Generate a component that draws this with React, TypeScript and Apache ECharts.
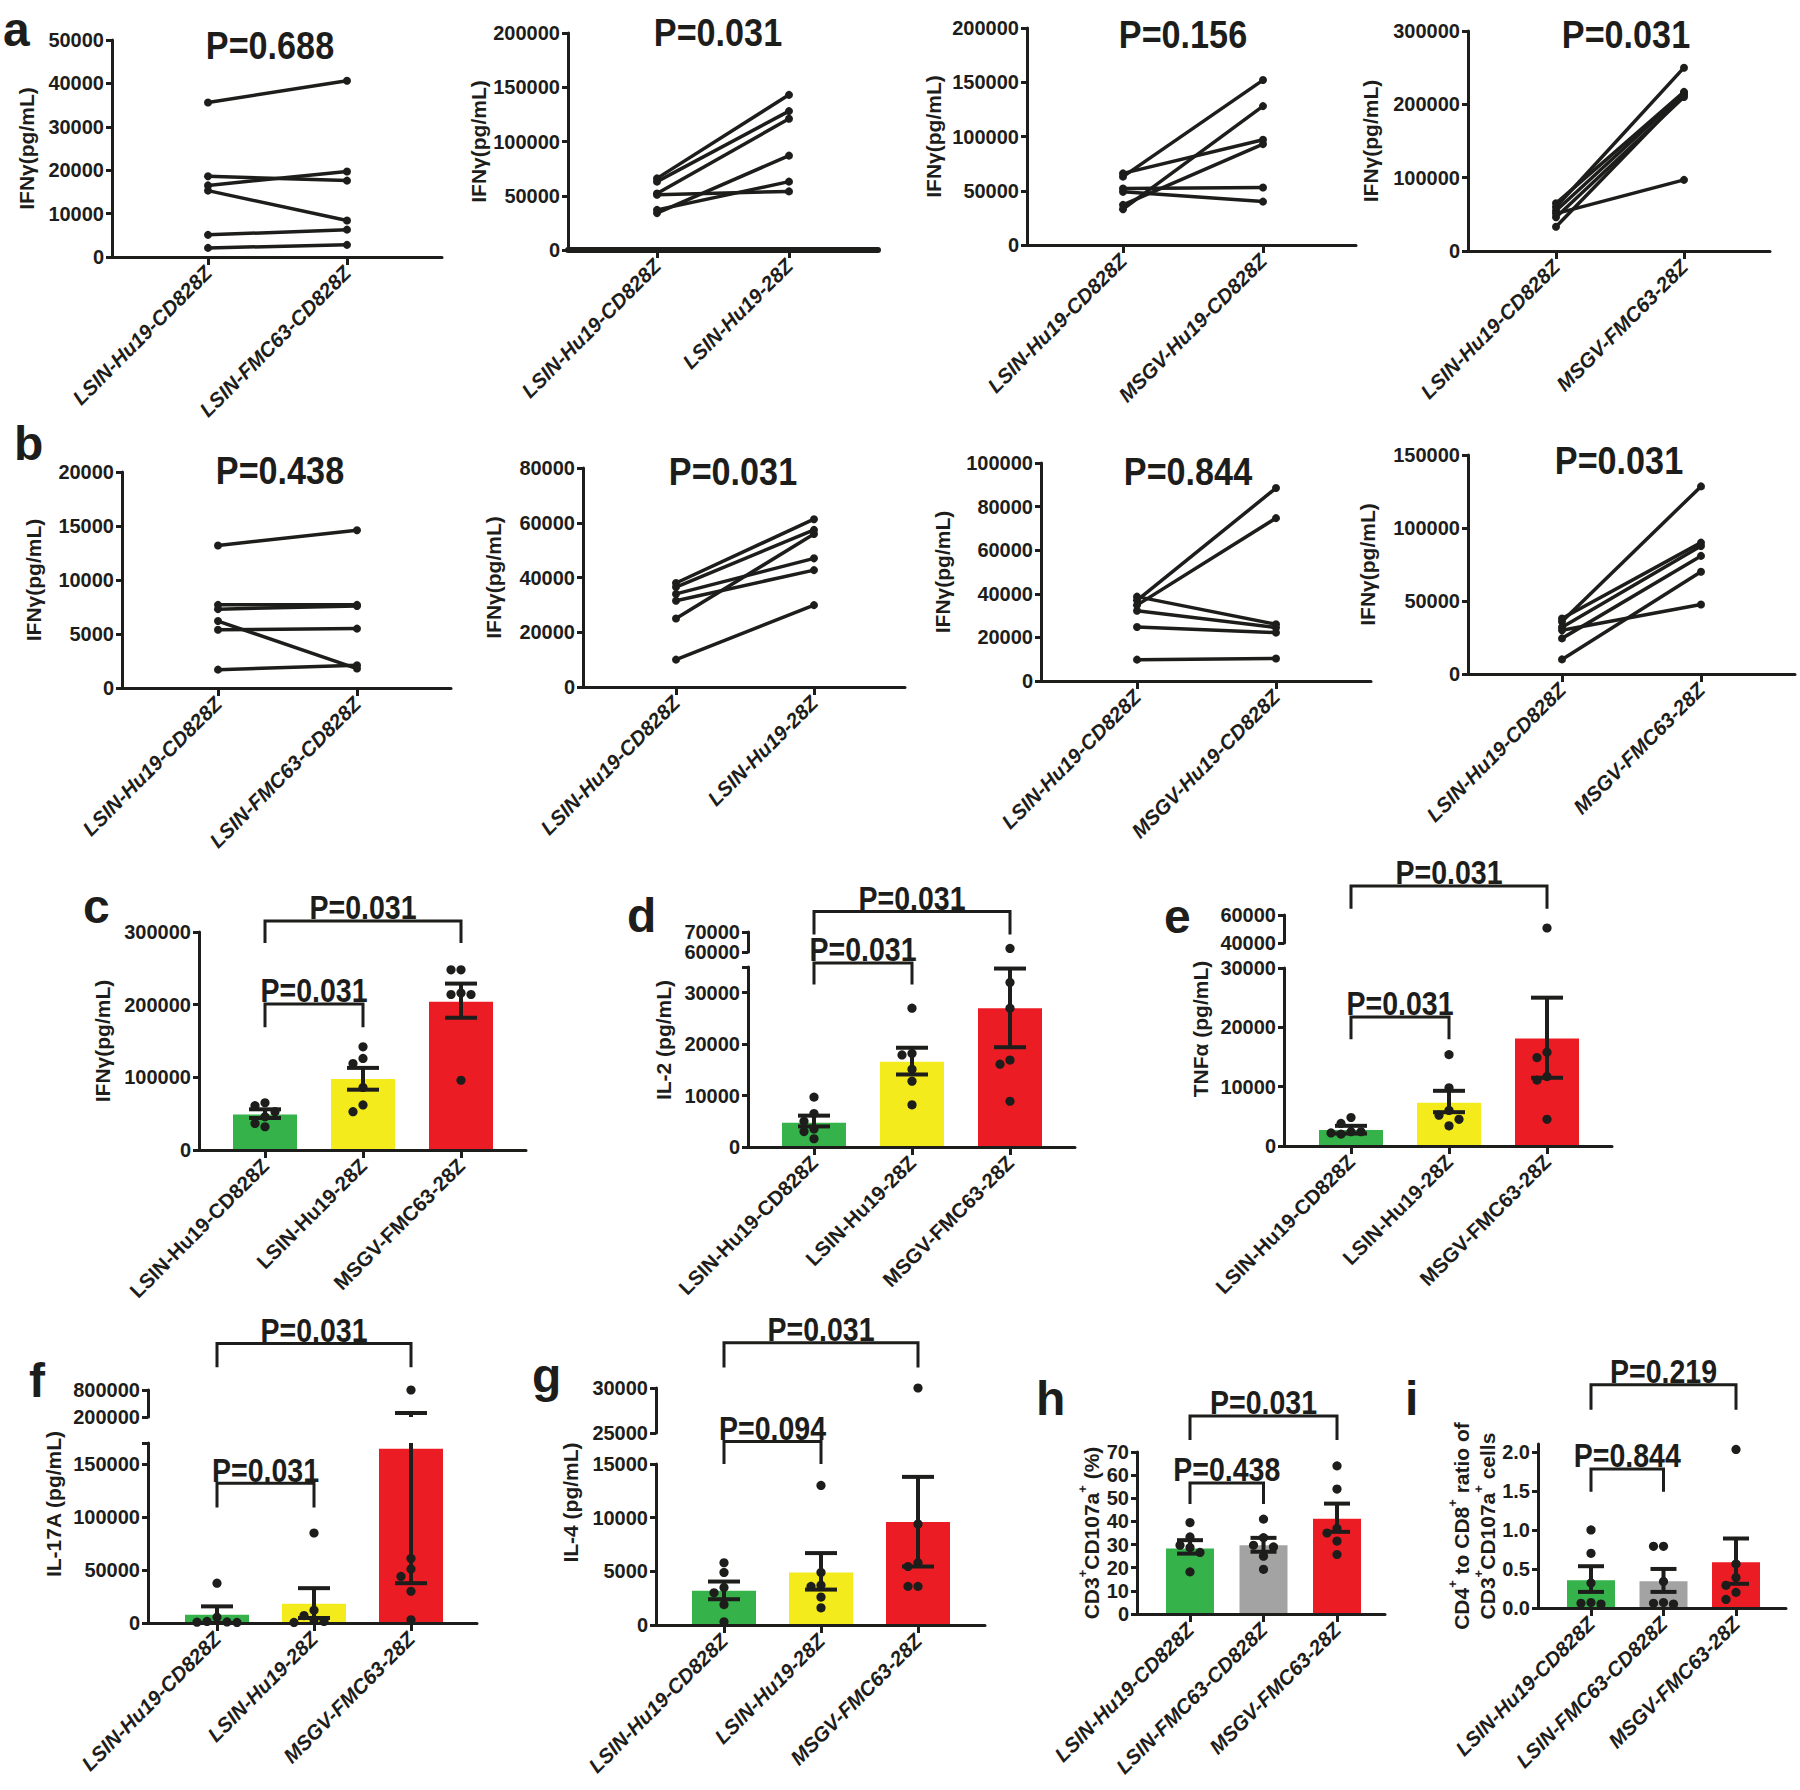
import React, { useEffect, useRef } from "react";
import * as echarts from "echarts";

// ===================== DATA =====================
// Panel a : IFN-γ (pg/mL), paired donors (first category -> second category)
const A1_CATS = ["LSIN-Hu19-CD828Z", "LSIN-FMC63-CD828Z"];
const A1_FIRST = [35600, 18600, 16500, 15300, 5100, 2100];
const A1_SECOND = [40600, 17600, 19700, 8400, 6300, 2800];
const A1_TICKS = [0, 10000, 20000, 30000, 40000, 50000];

const A2_CATS = ["LSIN-Hu19-CD828Z", "LSIN-Hu19-28Z"];
const A2_FIRST = [66000, 63000, 52000, 51000, 34000, 37000];
const A2_SECOND = [143000, 128000, 121000, 54000, 87000, 63000];
const A2_TICKS = [0, 50000, 100000, 150000, 200000];

const A3_CATS = ["LSIN-Hu19-CD828Z", "MSGV-Hu19-CD828Z"];
const A3_FIRST = [63000, 33000, 66000, 37000, 52000, 49000];
const A3_SECOND = [152000, 128000, 97000, 93000, 53000, 40000];
const A3_TICKS = [0, 50000, 100000, 150000, 200000];

const A4_CATS = ["LSIN-Hu19-CD828Z", "MSGV-FMC63-28Z"];
const A4_FIRST = [60000, 65000, 55000, 33000, 46000, 51000];
const A4_SECOND = [250000, 217000, 215000, 213000, 210000, 97000];
const A4_TICKS = [0, 100000, 200000, 300000];

// Panel b : IFN-γ (pg/mL), paired donors
const B1_FIRST = [13200, 7700, 7300, 5400, 6200, 1700];
const B1_SECOND = [14600, 7700, 7600, 5500, 1800, 2100];
const B1_TICKS = [0, 5000, 10000, 15000, 20000];

const B2_FIRST = [38000, 36500, 34000, 31500, 25000, 10000];
const B2_SECOND = [61300, 57400, 47000, 42700, 55900, 29900];
const B2_TICKS = [0, 20000, 40000, 60000, 80000];

const B3_FIRST = [37000, 34800, 38700, 32200, 24800, 9800];
const B3_SECOND = [88500, 74700, 26000, 24500, 22200, 10300];
const B3_TICKS = [0, 20000, 40000, 60000, 80000, 100000];

const B4_FIRST = [36000, 38000, 32000, 24400, 10000, 30000];
const B4_SECOND = [128500, 90000, 87700, 80900, 70000, 47600];
const B4_TICKS = [0, 50000, 100000, 150000];

const P_ROW_A = ["P=0.688", "P=0.031", "P=0.156", "P=0.031"];
const P_ROW_B = ["P=0.438", "P=0.031", "P=0.844", "P=0.031"];

// Bar panels c–i
const CATS_28 = ["LSIN-Hu19-CD828Z", "LSIN-Hu19-28Z", "MSGV-FMC63-28Z"];
const CATS_FMC = ["LSIN-Hu19-CD828Z", "LSIN-FMC63-CD828Z", "MSGV-FMC63-28Z"];

// c : IFN-γ
const C_MEAN = [49000, 97600, 204000];
const C_SEM_HI = [56000, 113000, 229000];
const C_SEM_LO = [44000, 83000, 182000];
const C_DOTS_1 = [65000, 61000, 52700, 45800, 36600, 32000];
const C_DOTS_2 = [142000, 126000, 119000, 86000, 62000, 52700];
const C_DOTS_3 = [248000, 248000, 216000, 214000, 214000, 96000];
const C_TICKS = [0, 100000, 200000, 300000];
const C_P = ["P=0.031", "P=0.031"];

// d : IL-2 (broken axis)
const D_MEAN = [4700, 16600, 27000];
const D_SEM_HI = [6100, 19300, 34700];
const D_SEM_LO = [4000, 14100, 19400];
const D_DOTS_1 = [9700, 6500, 5000, 3500, 3000, 1600];
const D_DOTS_2 = [27000, 18200, 17900, 15100, 12800, 8200];
const D_DOTS_3 = [61800, 32000, 27000, 16900, 16100, 8900];
const D_TICKS = [0, 10000, 20000, 30000];
const D_TICKS_UP = [60000, 70000];
const D_P = ["P=0.031", "P=0.031"];

// e : TNF-α (broken axis)
const E_MEAN = [2700, 7300, 18100];
const E_SEM_HI = [3400, 9300, 25000];
const E_SEM_LO = [2100, 5700, 11500];
const E_DOTS_1 = [4800, 3800, 2400, 2400, 2200, 2000];
const E_DOTS_2 = [15400, 9800, 6000, 5200, 4500, 3400];
const E_DOTS_3 = [50700, 15800, 14900, 11700, 11100, 4500];
const E_TICKS = [0, 10000, 20000, 30000];
const E_TICKS_UP = [40000, 60000];
const E_P = ["P=0.031", "P=0.031"];

// f : IL-17A (broken axis)
const F_MEAN = [7800, 18200, 164600];
const F_SEM_HI = [15700, 32900, 289000];
const F_SEM_LO = [0, 4700, 37600];
const F_DOTS_1 = [37600, 5500, 1500, 1000, 800, 500];
const F_DOTS_2 = [85000, 12000, 7000, 3000, 1500, 500];
const F_DOTS_3 = [800000, 61000, 51000, 44000, 30000, 3000];
const F_TICKS = [0, 50000, 100000, 150000];
const F_TICKS_UP = [200000, 800000];
const F_P = ["P=0.031", "P=0.031"];

// g : IL-4 (broken axis)
const G_MEAN = [3200, 4900, 9600];
const G_SEM_HI = [4050, 6700, 13800];
const G_SEM_LO = [2400, 3300, 5450];
const G_DOTS_1 = [5800, 4900, 3500, 3000, 1900, 300];
const G_DOTS_2 = [13000, 4900, 3700, 3600, 2600, 1600];
const G_DOTS_3 = [30000, 9400, 5800, 5450, 3600, 3600];
const G_TICKS = [0, 5000, 10000, 15000];
const G_TICKS_UP = [25000, 30000];
const G_P = ["P=0.031", "P=0.094"];

// h : CD3+CD107a+ (%)
const H_MEAN = [28.3, 29.7, 41.2];
const H_SEM_HI = [31.9, 32.9, 47.7];
const H_SEM_LO = [26.1, 26.9, 35.5];
const H_DOTS_1 = [39.5, 33.3, 29.7, 28.7, 26.6, 18.2];
const H_DOTS_2 = [41, 33, 29.7, 29, 25, 19.3];
const H_DOTS_3 = [64, 54, 37, 35, 31.5, 25.7];
const H_TICKS = [0, 10, 20, 30, 40, 50, 60, 70];
const H_P = ["P=0.031", "P=0.438"];

// i : CD4+/CD8+ ratio
const I_MEAN = [0.355, 0.343, 0.587];
const I_SEM_HI = [0.535, 0.5, 0.89];
const I_SEM_LO = [0.206, 0.206, 0.31];
const I_DOTS_1 = [1.0, 0.7, 0.32, 0.07, 0.06, 0.05];
const I_DOTS_2 = [0.79, 0.79, 0.34, 0.07, 0.06, 0.05];
const I_DOTS_3 = [2.03, 0.565, 0.39, 0.29, 0.2, 0.11];
const I_TICKS = [0, 0.5, 1, 1.5, 2];
const I_P = ["P=0.219", "P=0.844"];

// ===================== STYLE / LAYOUT =====================
const W = 1800;
const H = 1790;
const INK = "#1d1d1b";
const SANS = "'Liberation Sans', Arial, Helvetica, sans-serif";
const GREEN = "#35b24a";
const YELLOW = "#f3eb1c";
const RED = "#ec1c24";
const GRAY = "#a3a3a3";

const PAIRED_BOX = [
  { L: 112, R: 442, T: 40, B: 257, cx: [208, 347], gap: 75, tx: 270, ty: 46, xw: 3 },
  { L: 568, R: 878, T: 33, B: 250, cx: [657, 789], gap: 77, tx: 718, ty: 33, xw: 6 },
  { L: 1027, R: 1356, T: 28, B: 245, cx: [1123, 1263], gap: 83, tx: 1183, ty: 35, xw: 3 },
  { L: 1468, R: 1770, T: 31, B: 251, cx: [1556, 1684], gap: 87, tx: 1626, ty: 35, xw: 3 },
  { L: 122, R: 451, T: 472, B: 688, cx: [218, 357], gap: 78, tx: 280, ty: 471, xw: 3 },
  { L: 583, R: 905, T: 468, B: 687, cx: [676, 814], gap: 79, tx: 733, ty: 472, xw: 3 },
  { L: 1041, R: 1371, T: 463, B: 681, cx: [1137, 1276], gap: 88, tx: 1188, ty: 472, xw: 3 },
  { L: 1468, R: 1795, T: 455, B: 674, cx: [1562, 1701], gap: 90, tx: 1619, ty: 461, xw: 3 },
];

const LETTERS: [string, number, number][] = [
  ["a", 3, 46], ["b", 14, 460], ["c", 83, 923], ["d", 627, 932], ["e", 1164, 933],
  ["f", 29, 1397], ["g", 532, 1392], ["h", 1036, 1415], ["i", 1405, 1415],
];

function swarm(vals: number[], toPx: (v: number) => number, d: number): number[] {
  const idx = vals.map((_, k) => k).sort((a, b) => vals[b] - vals[a]);
  const placed: [number, number][] = [];
  const out = vals.map(() => 0);
  const steps = [0, -1, 1, -2, 2, -3, 3];
  idx.forEach((k) => {
    const y = toPx(vals[k]);
    for (const s of steps) {
      const x = s * d;
      if (placed.every(([px, py]) => Math.hypot(px - x, py - y) >= d - 0.5)) {
        out[k] = x;
        placed.push([x, y]);
        break;
      }
    }
  });
  return out;
}

function buildOption() {
  const grid: any[] = [];
  const xAxis: any[] = [];
  const yAxis: any[] = [];
  const series: any[] = [];
  const graphic: any[] = [];

  const axisLine = (w = 3) => ({ show: true, onZero: false, lineStyle: { color: INK, width: w } });

  const addGrid = (L: number, R: number, T: number, B: number) => {
    grid.push({ left: L, top: T, width: R - L, height: B - T, containLabel: false, outerBoundsMode: "none" });
    return grid.length - 1;
  };

  const makeX = (gi: number, L: number, R: number, cx: number[], cats: string[], italic: boolean, show: boolean, lw = 3) => {
    const n = cats.length;
    const unit = (cx[1] - cx[0]) / (n - 1);
    const pos = cats.map((_, k) => k);
    xAxis.push({
      gridIndex: gi, type: "value", show, z: 10,
      min: -(cx[0] - L) / unit, max: n - 1 + (R - cx[1]) / unit,
      axisLine: axisLine(lw),
      axisTick: { show: true, customValues: pos, length: 8, lineStyle: { color: INK, width: 3 } },
      axisLabel: {
        show: true, customValues: pos, formatter: (v: number) => cats[Math.round(v)] ?? "",
        rotate: 45, margin: 12, fontFamily: SANS, fontSize: 20.5, fontWeight: "bold",
        fontStyle: italic ? "italic" : "normal", color: INK,
      },
      splitLine: { show: false },
    });
  };

  const makeY = (gi: number, min: number, max: number, ticks: number[], labels: number[], dec: number,
    name = "", gap = 0, shift = 0, rich: any = null) => {
    yAxis.push({
      gridIndex: gi, type: "value", min, max, z: 10,
      axisLine: axisLine(3),
      axisTick: { show: true, customValues: ticks, length: 6, lineStyle: { color: INK, width: 3 } },
      axisLabel: {
        show: true, customValues: labels, margin: 8,
        formatter: (v: number) => (dec ? v.toFixed(dec) : String(Math.round(v))),
        fontFamily: SANS, fontSize: 20, fontWeight: "bold", color: INK,
      },
      splitLine: { show: false },
      name, nameLocation: "middle", nameGap: gap,
      nameTextStyle: {
        fontFamily: SANS, fontSize: 21, fontWeight: "bold", color: INK,
        padding: [0, 0, 0, 2 * shift],
        ...(rich ? { rich } : {}),
      },
    });
  };

  // ---------- paired panels (rows a, b) ----------
  const paired = [
    { cats: A1_CATS, f: A1_FIRST, s: A1_SECOND, t: A1_TICKS, p: P_ROW_A[0] },
    { cats: A2_CATS, f: A2_FIRST, s: A2_SECOND, t: A2_TICKS, p: P_ROW_A[1] },
    { cats: A3_CATS, f: A3_FIRST, s: A3_SECOND, t: A3_TICKS, p: P_ROW_A[2] },
    { cats: A4_CATS, f: A4_FIRST, s: A4_SECOND, t: A4_TICKS, p: P_ROW_A[3] },
    { cats: A1_CATS, f: B1_FIRST, s: B1_SECOND, t: B1_TICKS, p: P_ROW_B[0] },
    { cats: A2_CATS, f: B2_FIRST, s: B2_SECOND, t: B2_TICKS, p: P_ROW_B[1] },
    { cats: A3_CATS, f: B3_FIRST, s: B3_SECOND, t: B3_TICKS, p: P_ROW_B[2] },
    { cats: A4_CATS, f: B4_FIRST, s: B4_SECOND, t: B4_TICKS, p: P_ROW_B[3] },
  ];
  paired.forEach((P, k) => {
    const b = PAIRED_BOX[k];
    const gi = addGrid(b.L, b.R, b.T, b.B);
    makeX(gi, b.L, b.R, b.cx, P.cats, true, true, b.xw);
    makeY(gi, 0, P.t[P.t.length - 1], P.t, P.t, 0, "IFNγ(pg/mL)", b.gap);
    P.f.forEach((v, j) => {
      series.push({
        type: "line", xAxisIndex: gi, yAxisIndex: gi, silent: true, z: 3,
        data: [[0, v], [1, P.s[j]]],
        symbol: "circle", symbolSize: 8, showSymbol: true,
        lineStyle: { color: INK, width: 3.5 }, itemStyle: { color: INK },
      });
    });
    graphic.push({
      type: "text", x: b.tx, y: b.ty, scaleX: 0.9,
      style: {
        text: P.p, x: 0, y: 0, fill: INK, fontFamily: SANS, fontSize: 38, fontWeight: "bold",
        align: "center", verticalAlign: "middle", textAlign: "center", textVerticalAlign: "middle",
      },
    });
  });

  // ---------- bar panels ----------
  const supRich = {
    n: { fontFamily: SANS, fontSize: 21, fontWeight: "bold", color: INK, lineHeight: 26, verticalAlign: "bottom" },
    s: { fontFamily: SANS, fontSize: 13, fontWeight: "bold", color: INK, lineHeight: 14, verticalAlign: "top" },
  };
  const bars = [
    {
      cats: CATS_28, mean: C_MEAN, hi: C_SEM_HI, lo: C_SEM_LO, dots: [C_DOTS_1, C_DOTS_2, C_DOTS_3],
      colors: [GREEN, YELLOW, RED], max: 300000, ticks: C_TICKS, labels: C_TICKS, dec: 0, up: null,
      name: "IFNγ(pg/mL)", rich: null, italic: false,
      br: [{ i: 0, j: 2, y: 315000, leg: 285000, t: C_P[0] }, { i: 0, j: 1, y: 201000, leg: 169000, t: C_P[1] }],
      L: 199, R: 526, T: 932, B: 1150, cx: [265, 461], gap: 86, shift: 0, bw: 64, cap: 32,
    },
    {
      cats: CATS_28, mean: D_MEAN, hi: D_SEM_HI, lo: D_SEM_LO, dots: [D_DOTS_1, D_DOTS_2, D_DOTS_3],
      colors: [GREEN, YELLOW, RED], max: 35000, ticks: [...D_TICKS, 35000], labels: D_TICKS, dec: 0,
      up: { min: 60000, max: 70000, ticks: D_TICKS_UP, T: 932, B: 952 },
      name: "IL-2 (pg/mL)", rich: null, italic: false,
      br: [{ i: 0, j: 2, y: 45800, leg: 41300, t: D_P[0] }, { i: 0, j: 1, y: 35800, leg: 31600, t: D_P[1] }],
      L: 748, R: 1075, T: 967, B: 1147, cx: [814, 1010], gap: 74, shift: 17, bw: 64, cap: 32,
    },
    {
      cats: CATS_28, mean: E_MEAN, hi: E_SEM_HI, lo: E_SEM_LO, dots: [E_DOTS_1, E_DOTS_2, E_DOTS_3],
      colors: [GREEN, YELLOW, RED], max: 30000, ticks: E_TICKS, labels: E_TICKS, dec: 0,
      up: { min: 40000, max: 60000, ticks: E_TICKS_UP, T: 915, B: 943 },
      name: "TNFα (pg/mL)", rich: null, italic: false,
      br: [{ i: 0, j: 2, y: 43800, leg: 40000, t: E_P[0] }, { i: 0, j: 1, y: 21750, leg: 18000, t: E_P[1] }],
      L: 1284, R: 1612, T: 968, B: 1146, cx: [1351, 1547], gap: 73, shift: 28, bw: 64, cap: 32,
    },
    {
      cats: CATS_28, mean: F_MEAN, hi: F_SEM_HI, lo: F_SEM_LO, dots: [F_DOTS_1, F_DOTS_2, F_DOTS_3],
      colors: [GREEN, YELLOW, RED], max: 170000, ticks: [...F_TICKS, 170000], labels: F_TICKS, dec: 0,
      up: { min: 200000, max: 800000, ticks: F_TICKS_UP, T: 1390, B: 1417 },
      name: "IL-17A (pg/mL)", rich: null, italic: true,
      br: [{ i: 0, j: 2, y: 264000, leg: 241500, t: F_P[0] }, { i: 0, j: 1, y: 132000, leg: 109000, t: F_P[1] }],
      L: 148, R: 477, T: 1443, B: 1623, cx: [217, 411], gap: 84, shift: 29, bw: 64, cap: 32,
    },
    {
      cats: CATS_28, mean: G_MEAN, hi: G_SEM_HI, lo: G_SEM_LO, dots: [G_DOTS_1, G_DOTS_2, G_DOTS_3],
      colors: [GREEN, YELLOW, RED], max: 15000, ticks: G_TICKS, labels: G_TICKS, dec: 0,
      up: { min: 25000, max: 30000, ticks: G_TICKS_UP, T: 1388, B: 1433 },
      name: "IL-4 (pg/mL)", rich: null, italic: true,
      br: [{ i: 0, j: 2, y: 26300, leg: 24000, t: G_P[0] }, { i: 0, j: 1, y: 17100, leg: 15000, t: G_P[1] }],
      L: 656, R: 985, T: 1464, B: 1625, cx: [724, 918], gap: 75, shift: 42, bw: 64, cap: 32,
    },
    {
      cats: CATS_FMC, mean: H_MEAN, hi: H_SEM_HI, lo: H_SEM_LO, dots: [H_DOTS_1, H_DOTS_2, H_DOTS_3],
      colors: [GREEN, GRAY, RED], max: 70, ticks: H_TICKS, labels: H_TICKS, dec: 0, up: null,
      name: "{n|CD3}{s|+}{n|CD107a}{s|+}{n| (%)}", rich: supRich, italic: true,
      br: [{ i: 0, j: 2, y: 85.6, leg: 75.2, t: H_P[0] }, { i: 0, j: 1, y: 56.6, leg: 47.5, t: H_P[1] }],
      L: 1137, R: 1385, T: 1452, B: 1614, cx: [1190, 1337], gap: 35, shift: 0, bw: 48, cap: 26,
    },
    {
      cats: CATS_FMC, mean: I_MEAN, hi: I_SEM_HI, lo: I_SEM_LO, dots: [I_DOTS_1, I_DOTS_2, I_DOTS_3],
      colors: [GREEN, GRAY, RED], max: 2.1, ticks: I_TICKS, labels: I_TICKS, dec: 1, up: null,
      name: "{n|CD4}{s|+}{n| to CD8}{s|+}{n| ratio of}\n{n|CD3}{s|+}{n|CD107a}{s|+}{n| cells}", rich: supRich, italic: true,
      br: [{ i: 0, j: 2, y: 2.86, leg: 2.54, t: I_P[0] }, { i: 0, j: 1, y: 1.78, leg: 1.49, t: I_P[1] }],
      L: 1538, R: 1786, T: 1444, B: 1608, cx: [1591, 1736], gap: 40, shift: 0, bw: 48, cap: 26,
    },
  ];

  bars.forEach((P: any) => {
    const gl = addGrid(P.L, P.R, P.T, P.B);
    makeX(gl, P.L, P.R, P.cx, P.cats, P.italic, true);
    makeY(gl, 0, P.max, P.ticks, P.labels, P.dec, P.name, P.gap, P.shift, P.rich);
    const ranges: { g: number; min: number; max: number }[] = [{ g: gl, min: 0, max: P.max }];
    if (P.up) {
      const gu = addGrid(P.L, P.R, P.up.T, P.up.B);
      makeX(gu, P.L, P.R, P.cx, P.cats, P.italic, false);
      makeY(gu, P.up.min, P.up.max, P.up.ticks, P.up.ticks, 0);
      ranges.push({ g: gu, min: P.up.min, max: P.up.max });
    }
    const toPx = (v: number) =>
      v <= P.max || !P.up
        ? P.B - (v / P.max) * (P.B - P.T)
        : P.up.B - ((v - P.up.min) / (P.up.max - P.up.min)) * (P.up.B - P.up.T);

    // bars
    series.push({
      type: "custom", xAxisIndex: gl, yAxisIndex: gl, silent: true, z: 1,
      data: P.mean.map((m: number, k: number) => [k, m]),
      renderItem: (params: any, api: any) => {
        const k = api.value(0);
        const m = Math.min(api.value(1), P.max);
        const top = api.coord([k, m]);
        const base = api.coord([k, 0]);
        return {
          type: "rect",
          shape: { x: top[0] - P.bw / 2, y: top[1], width: P.bw, height: base[1] - top[1] },
          style: { fill: P.colors[params.dataIndex] },
        };
      },
    });

    // dots
    const dotSets: any[][] = ranges.map(() => []);
    P.dots.forEach((vals: number[], k: number) => {
      const dx = swarm(vals, toPx, 10);
      vals.forEach((v, j) => {
        const r = ranges.findIndex((R) => v >= R.min && v <= R.max);
        if (r >= 0) dotSets[r].push([k, v, dx[j]]);
      });
    });
    ranges.forEach((R, r) => {
      series.push({
        type: "custom", xAxisIndex: R.g, yAxisIndex: R.g, silent: true, z: 3,
        data: dotSets[r],
        renderItem: (params: any, api: any) => {
          const c = api.coord([api.value(0), api.value(1)]);
          return { type: "circle", shape: { cx: c[0] + api.value(2), cy: c[1], r: 4.6 }, style: { fill: INK } };
        },
      });
      // error bars (mean ± SEM)
      series.push({
        type: "custom", xAxisIndex: R.g, yAxisIndex: R.g, silent: true, z: 4,
        data: P.mean.map((m: number, k: number) => [k, P.lo[k], P.hi[k]]),
        renderItem: (params: any, api: any) => {
          const k = api.value(0), lo = api.value(1), hi = api.value(2);
          const a = Math.max(lo, R.min), b = Math.min(hi, R.max);
          if (a > b) return null;
          const p1 = api.coord([k, a]);
          const p2 = api.coord([k, b]);
          const x = p1[0];
          const ch: any[] = [
            { type: "line", shape: { x1: x, y1: p1[1], x2: x, y2: p2[1] }, style: { stroke: INK, lineWidth: 4 } },
          ];
          const hc = P.cap / 2;
          if (lo >= R.min && lo <= R.max)
            ch.push({ type: "line", shape: { x1: x - hc, y1: p1[1], x2: x + hc, y2: p1[1] }, style: { stroke: INK, lineWidth: 4 } });
          if (hi >= R.min && hi <= R.max)
            ch.push({ type: "line", shape: { x1: x - hc, y1: p2[1], x2: x + hc, y2: p2[1] }, style: { stroke: INK, lineWidth: 4 } });
          return { type: "group", children: ch };
        },
      });
    });

    // significance brackets
    series.push({
      type: "custom", xAxisIndex: gl, yAxisIndex: gl, silent: true, z: 5, clip: false,
      data: P.br.map((b: any) => [b.i, b.j, b.y, b.leg]),
      renderItem: (params: any, api: any) => {
        const b = P.br[params.dataIndex];
        const pA = api.coord([b.i, b.leg]);
        const pT = api.coord([b.i, b.y]);
        const pR = api.coord([b.j, b.y]);
        const pB = api.coord([b.j, b.leg]);
        return {
          type: "group",
          children: [
            {
              type: "polyline",
              shape: { points: [[pA[0], pA[1]], [pT[0], pT[1]], [pR[0], pR[1]], [pB[0], pB[1]]] },
              style: { stroke: INK, lineWidth: 3, fill: "none" },
            },
            {
              type: "text", x: (pT[0] + pR[0]) / 2, y: pT[1] - 13, scaleX: 0.84,
              style: {
                text: b.t, x: 0, y: 0, fill: INK, fontFamily: SANS, fontSize: 34, fontWeight: "bold",
                align: "center", verticalAlign: "middle",
              },
            },
          ],
        };
      },
    });
  });

  LETTERS.forEach(([t, x, base]) => {
    graphic.push({
      type: "text", x, y: base - 17,
      style: {
        text: t, x: 0, y: 0, fill: INK, fontFamily: SANS, fontSize: 48, fontWeight: "bold",
        align: "left", verticalAlign: "middle", textAlign: "left", textVerticalAlign: "middle",
      },
    });
  });

  return {
    animation: false,
    backgroundColor: "#ffffff",
    grid, xAxis, yAxis, series, graphic,
  };
}

export default function App() {
  const ref = useRef<HTMLDivElement>(null);
  useEffect(() => {
    if (!ref.current) return;
    const chart = echarts.init(ref.current, null, { renderer: "svg", width: W, height: H });
    chart.setOption(buildOption() as any);
    return () => chart.dispose();
  }, []);
  return (
    <div
      ref={ref}
      style={{ position: "absolute", left: 0, top: 0, width: W, height: H, background: "#fff" }}
    />
  );
}
